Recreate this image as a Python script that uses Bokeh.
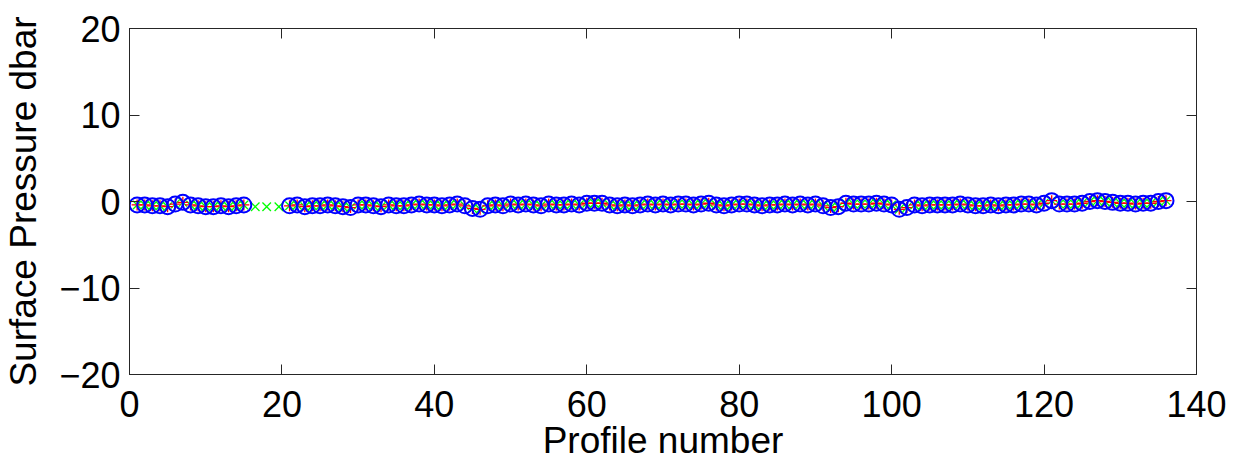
from bokeh.plotting import figure
from bokeh.models import LinearAxis, Range1d, FixedTicker, CustomJSTickFormatter
from bokeh.embed import file_html
from bokeh.resources import INLINE

# ---- data ----
profiles = list(range(1, 16)) + list(range(21, 137))
pressure = [
    -0.4, -0.4, -0.5, -0.5, -0.6, -0.3, -0.1, -0.4, -0.5, -0.6, -0.6, -0.5, -0.6, -0.5, -0.4,
    -0.5, -0.4, -0.6, -0.5, -0.5, -0.4, -0.5, -0.6, -0.7, -0.4, -0.4, -0.5, -0.6, -0.4, -0.5, -0.5, -0.4, -0.3, -0.4, -0.4,
    -0.5, -0.4, -0.3, -0.5, -0.8, -0.9, -0.5, -0.4, -0.5, -0.3, -0.4, -0.3, -0.4, -0.5, -0.3, -0.4, -0.4, -0.3, -0.4, -0.2,
    -0.2, -0.2, -0.4, -0.5, -0.4, -0.5, -0.4, -0.3, -0.4, -0.3, -0.4, -0.3, -0.3, -0.4, -0.3, -0.2, -0.4, -0.5, -0.4, -0.3,
    -0.3, -0.4, -0.5, -0.4, -0.4, -0.3, -0.4, -0.3, -0.4, -0.3, -0.5, -0.7, -0.6, -0.2, -0.3, -0.3, -0.3, -0.2, -0.3, -0.4,
    -0.9, -0.7, -0.4, -0.5, -0.4, -0.4, -0.4, -0.4, -0.3, -0.4, -0.5, -0.5, -0.4, -0.5, -0.4, -0.4, -0.3, -0.3, -0.4, -0.2,
    0.1, -0.3, -0.3, -0.3, -0.2, 0.0, 0.1, 0.0, -0.1, -0.2, -0.2, -0.3, -0.2, -0.2, 0.0, 0.1,
]
gap_profiles = [16.5, 18.0, 19.6]
gap_pressure = [-0.6, -0.6, -0.6]

x_ticks = [0, 20, 40, 60, 80, 100, 120, 140]
y_ticks = [-20, -10, 0, 10, 20]

FONT = "Liberation Sans"

p = figure(width=1238, height=463, output_backend="svg", toolbar_location=None,
           x_range=Range1d(0, 140), y_range=Range1d(-20, 20),
           min_border_left=126, min_border_right=42, min_border_top=28, min_border_bottom=88)
p.outline_line_color = "#262626"
p.outline_line_width = 1
p.xgrid.visible = False
p.ygrid.visible = False

# markers
p.scatter(profiles + gap_profiles, pressure + gap_pressure, marker="x", size=12,
          line_color="#00ff00", line_width=1.3)
p.scatter(profiles, pressure, marker="cross", size=11, line_color="#ff0000", line_width=1.3)
p.scatter(profiles, pressure, marker="circle", size=15, fill_color=None,
          line_color="#0000ff", line_width=2)

fmt = CustomJSTickFormatter(code="return tick < 0 ? '\u2212' + Math.abs(tick) : String(tick);")

def style(ax, labels=True):
    ax.major_tick_in = 10
    ax.major_tick_out = 0
    ax.minor_tick_in = 0
    ax.minor_tick_out = 0
    ax.axis_line_color = "#262626"
    ax.major_tick_line_color = "#262626"
    ax.major_label_text_font = FONT
    ax.major_label_text_font_size = "36px"
    ax.major_label_text_color = "black"
    ax.axis_label_text_font = FONT
    ax.axis_label_text_font_size = "37px"
    ax.axis_label_text_font_style = "normal"
    ax.axis_label_text_color = "black"
    if not labels:
        ax.major_label_text_font_size = "0px"
        ax.major_label_text_alpha = 0

xa = p.xaxis[0]
xa.ticker = FixedTicker(ticks=x_ticks)
xa.axis_label = "Profile number"
style(xa)
xa.major_label_standoff = 16
xa.axis_label_standoff = 0

ya = p.yaxis[0]
ya.ticker = FixedTicker(ticks=y_ticks)
ya.formatter = fmt
ya.axis_label = "Surface Pressure dbar"
style(ya)
ya.major_label_standoff = 9
ya.axis_label_standoff = 12

top = LinearAxis(ticker=FixedTicker(ticks=x_ticks), major_label_text_alpha=0)
style(top, labels=False)
p.add_layout(top, "above")
right = LinearAxis(ticker=FixedTicker(ticks=y_ticks), major_label_text_alpha=0)
style(right, labels=False)
p.add_layout(right, "right")
top.major_label_standoff = 0
right.major_label_standoff = 0

open("out.html", "w").write(file_html(p, INLINE))
